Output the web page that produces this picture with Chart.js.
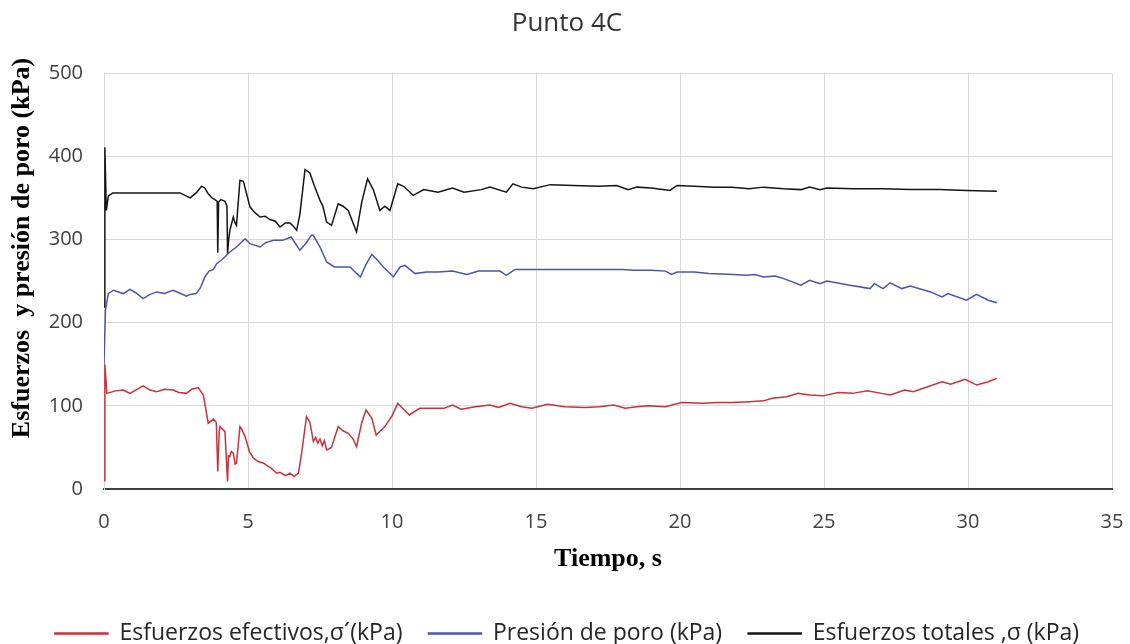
<!DOCTYPE html>
<html>
<head>
<meta charset="utf-8">
<title>Punto 4C</title>
<script src="https://cdn.jsdelivr.net/npm/chart.js@4.4.1/dist/chart.umd.min.js"></script>
<style>
  html, body { margin: 0; padding: 0; background: #ffffff; }
  #wrap { width: 1130px; height: 644px; }
</style>
</head>
<body>
<div id="wrap"><canvas id="punto4c" width="1130" height="644"></canvas></div>
<script>
// Tiempo (s) and values (kPa), one pair of arrays per series
const tEfectivos = [0, 0.03, 0.1, 0.4, 0.67, 0.9, 1.1, 1.36, 1.6, 1.83, 2.1, 2.4, 2.6, 2.86, 3.05, 3.27, 3.45, 3.62, 3.8, 3.9, 3.95, 4.0, 4.03, 4.2, 4.29, 4.32, 4.37, 4.42, 4.49, 4.55, 4.6, 4.72, 4.78, 4.9, 5.05, 5.19, 5.35, 5.54, 5.8, 6.0, 6.11, 6.3, 6.46, 6.6, 6.75, 6.85, 7.03, 7.15, 7.27, 7.35, 7.42, 7.5, 7.58, 7.65, 7.73, 7.9, 8.13, 8.3, 8.48, 8.65, 8.77, 8.95, 9.1, 9.3, 9.45, 9.6, 9.75, 10.0, 10.2, 10.4, 10.6, 10.96, 11.4, 11.8, 12.1, 12.4, 12.9, 13.4, 13.7, 14.1, 14.5, 14.86, 15.4, 16.0, 16.7, 17.2, 17.7, 18.1, 18.5, 18.9, 19.5, 20.05, 20.8, 21.3, 21.8, 22.4, 22.9, 23.2, 23.7, 24.1, 24.5, 24.96, 25.5, 26.0, 26.5, 27.0, 27.3, 27.8, 28.1, 28.6, 29.1, 29.4, 29.9, 30.3, 30.7, 31.0];
const efectivos = [10, 150, 115, 118, 119, 115, 119, 124, 119, 117, 120, 119, 116, 115, 120, 122, 113, 79, 84, 80, 21, 70, 75, 69, 9, 40, 39, 45, 43, 30, 31, 75, 72, 63, 45, 37, 33, 31, 25, 19, 20, 16, 19, 15, 19, 40, 87, 80, 57, 62, 55, 60, 52, 58, 47, 50, 75, 70, 67, 60, 51, 80, 95, 85, 65, 70, 75, 88, 103, 96, 89, 97, 97, 97, 101, 96, 99, 101, 98, 103, 99, 97, 102, 99, 98, 99, 101, 97, 99, 100, 99, 104, 103, 104, 104, 105, 106, 109, 111, 115, 113, 112, 116, 115, 118, 115, 113, 119, 117, 123, 129, 126, 132, 125, 129, 133];

const tPoro = [0, 0.05, 0.15, 0.32, 0.67, 0.9, 1.1, 1.36, 1.6, 1.83, 2.1, 2.4, 2.6, 2.86, 3.0, 3.2, 3.35, 3.5, 3.65, 3.8, 3.91, 4.1, 4.37, 4.6, 4.9, 5.07, 5.42, 5.6, 5.88, 6.2, 6.5, 6.8, 7.0, 7.2, 7.27, 7.5, 7.73, 8.0, 8.3, 8.54, 8.9, 9.1, 9.3, 9.5, 9.7, 10.05, 10.28, 10.45, 10.8, 11.2, 11.6, 12.1, 12.6, 13.0, 13.75, 13.97, 14.27, 18.0, 18.4, 19.0, 19.5, 19.7, 19.9, 20.5, 21.0, 21.85, 22.3, 22.6, 22.9, 23.3, 23.6, 24.2, 24.5, 24.86, 25.1, 25.9, 26.6, 26.75, 27.05, 27.3, 27.7, 28.0, 28.7, 29.1, 29.3, 29.95, 30.3, 30.7, 31.0];
const poro = [150, 215, 235, 239, 235, 240, 236, 229, 234, 237, 235, 239, 236, 232, 234, 235, 242, 255, 262, 264, 271, 276, 285, 291, 301, 295, 291, 296, 299, 299, 303, 287, 295, 305, 305, 291, 273, 267, 267, 267, 255, 270, 282, 275, 267, 255, 267, 269, 259, 261, 261, 262, 258, 262, 262, 257, 264, 264, 263, 263, 262, 258, 261, 261, 259, 258, 257, 258, 255, 256, 253, 245, 251, 247, 250, 245, 241, 247, 241, 248, 241, 244, 237, 231, 235, 227, 234, 227, 224];

const tTotales = [0, 0.03, 0.08, 0.15, 0.3, 1.0, 2.0, 2.64, 2.99, 3.2, 3.39, 3.5, 3.6, 3.75, 3.85, 3.93, 3.95, 3.98, 4.06, 4.2, 4.27, 4.29, 4.33, 4.37, 4.49, 4.55, 4.6, 4.72, 4.84, 5.07, 5.25, 5.42, 5.6, 5.76, 5.95, 6.11, 6.3, 6.46, 6.6, 6.69, 6.8, 6.98, 7.15, 7.3, 7.5, 7.6, 7.73, 7.9, 8.13, 8.3, 8.48, 8.77, 8.95, 9.15, 9.35, 9.58, 9.75, 9.93, 10.2, 10.4, 10.74, 11.1, 11.6, 12.1, 12.5, 13.1, 13.4, 13.97, 14.2, 14.5, 14.9, 15.5, 16.3, 17.2, 17.8, 18.2, 18.5, 19.0, 19.65, 19.9, 20.5, 21.2, 21.8, 22.4, 22.9, 23.6, 24.2, 24.5, 24.86, 25.1, 26.0, 27.05, 28.0, 29.0, 29.95, 31.0];
const totales = [219, 411, 335, 352, 356, 356, 356, 356, 350, 356, 364, 362, 356, 350, 348, 346, 284, 345, 348, 346, 340, 283, 300, 311, 327, 320, 317, 371, 370, 339, 332, 327, 328, 324, 322, 315, 320, 320, 315, 311, 330, 384, 380, 365, 347, 340, 321, 317, 343, 340, 335, 309, 345, 373, 360, 335, 340, 335, 367, 364, 353, 360, 357, 362, 357, 360, 363, 357, 367, 363, 361, 366, 365, 364, 365, 360, 363, 362, 359, 365, 364, 363, 363, 361, 363, 361, 360, 363, 360, 362, 361, 361, 360, 360, 359, 358];

const xTicks = [0, 5, 10, 15, 20, 25, 30, 35];
const yTicks = [0, 100, 200, 300, 400, 500];
const yTitle = 'Esfuerzos  y presión de poro (kPa)';

function toPoints(ts, vs) {
  return ts.map(function (t, i) { return { x: t, y: vs[i] }; });
}

const tickFont = { family: 'Open Sans', size: 20 };
const serifBold = { family: 'Liberation Serif', size: 26, weight: 'bold' };

// the y title sits a bit above the middle of the axis in the original, so draw it by hand
const yTitlePlugin = {
  id: 'yTitle',
  afterDraw: function (chart) {
    const c = chart.ctx;
    c.save();
    c.translate(22, 248);
    c.rotate(-Math.PI / 2);
    c.font = 'bold 26px "Liberation Serif"';
    c.fillStyle = '#000000';
    c.textAlign = 'center';
    c.textBaseline = 'middle';
    c.fillText(yTitle, 0, 0);
    c.restore();
  }
};

const ctx = document.getElementById('punto4c').getContext('2d');
new Chart(ctx, {
  type: 'line',
  data: {
    datasets: [
      {
        label: 'Esfuerzos efectivos,\u03c3\u00b4(kPa)',
        data: toPoints(tEfectivos, efectivos),
        borderColor: '#c8323a',
        backgroundColor: '#c8323a',
        borderWidth: 1.5
      },
      {
        label: 'Presión de poro (kPa)',
        data: toPoints(tPoro, poro),
        borderColor: '#4b55a8',
        backgroundColor: '#4b55a8',
        borderWidth: 1.5
      },
      {
        label: 'Esfuerzos totales ,\u03c3 (kPa)',
        data: toPoints(tTotales, totales),
        borderColor: '#151515',
        backgroundColor: '#151515',
        borderWidth: 1.5
      }
    ]
  },
  plugins: [yTitlePlugin],
  options: {
    responsive: false,
    animation: false,
    elements: { point: { radius: 0 }, line: { tension: 0 } },
    layout: { padding: { left: 22, right: 18, top: 8, bottom: -11 } },
    plugins: {
      title: {
        display: true,
        text: 'Punto 4C',
        color: '#333333',
        font: { family: 'Open Sans', size: 26, weight: 'normal' },
        padding: { top: 0, bottom: 34 }
      },
      legend: {
        position: 'bottom',
        labels: {
          color: '#262626',
          font: { family: 'Open Sans', size: 23 },
          boxWidth: 53,
          boxHeight: 1,
          padding: 26
        }
      },
      tooltip: { enabled: false }
    },
    scales: {
      x: {
        type: 'linear',
        min: 0,
        max: 35,
        afterBuildTicks: function (axis) {
          axis.ticks = xTicks.map(function (v) { return { value: v }; });
        },
        afterFit: function (axis) {
          axis.height = 107;
          axis.paddingLeft = 0;
          axis.paddingRight = 0;
        },
        grid: { color: '#d9d9d9', drawTicks: false },
        border: { color: '#404040', width: 2 },
        ticks: { color: '#404040', font: tickFont, padding: 21 },
        title: {
          display: true,
          text: 'Tiempo, s',
          color: '#000000',
          font: serifBold,
          padding: { top: 6, bottom: 21 }
        }
      },
      y: {
        min: 0,
        max: 500,
        afterBuildTicks: function (axis) {
          axis.ticks = yTicks.map(function (v) { return { value: v }; });
        },
        afterFit: function (axis) { axis.width = 82; },
        grid: { color: '#d9d9d9', drawTicks: false },
        border: { color: '#d9d9d9' },
        ticks: { color: '#404040', font: tickFont, padding: 21 },
        title: { display: false }
      }
    }
  }
});
</script>
</body>
</html>
